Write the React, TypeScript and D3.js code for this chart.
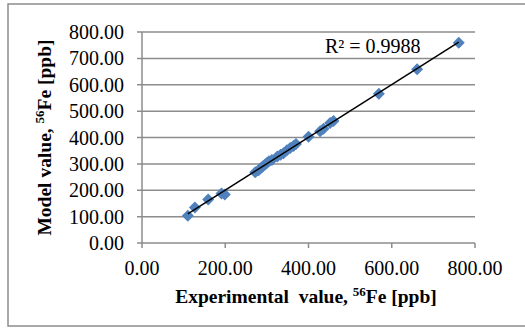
import React from "react";
import * as d3 from "d3";

const expValues = [110, 127, 159, 191, 199, 272, 280, 285, 290, 295, 300, 305, 312, 325, 333, 340, 348, 356, 364, 370, 400, 428, 436, 452, 460, 569, 661, 761];
const modelValues = [103, 135, 165, 188, 184, 268, 276, 283, 290, 297, 303, 310, 315, 328, 335, 340, 352, 360, 368, 375, 403, 424, 433, 455, 463, 566, 659, 759];
const xTicks = [0, 200, 400, 600, 800];
const yTicks = [0, 100, 200, 300, 400, 500, 600, 700, 800];
const r2Label = "R² = 0.9988";

export default function App() {
  const W = 525, H = 328;
  const left = 142, right = 475, top = 32, bottom = 243;
  const x = d3.scaleLinear().domain([0, 800]).range([left, right]);
  const y = d3.scaleLinear().domain([0, 800]).range([bottom, top]);

  const pts = expValues.map((v, i) => [v, modelValues[i]] as [number, number]);
  const mx = d3.mean(pts, (p) => p[0])!;
  const my = d3.mean(pts, (p) => p[1])!;
  const sxy = d3.sum(pts, (p) => (p[0] - mx) * (p[1] - my));
  const sxx = d3.sum(pts, (p) => (p[0] - mx) ** 2);
  const slope = sxy / sxx;
  const intercept = my - slope * mx;
  const [xmin, xmax] = d3.extent(expValues) as [number, number];
  const trend = d3.line<number>().x((v) => x(v)).y((v) => y(slope * v + intercept));

  const grid = "#8c8c8c";
  const font = "Liberation Serif, DejaVu Serif, Times New Roman, serif";
  const fmt = d3.format(".2f");
  const ds = 6;
  const diamond = `M0,${-ds}L${ds},0L0,${ds}L${-ds},0Z`;

  return (
    <svg width={W} height={H} style={{ position: "absolute", left: 0, top: 0, fontFamily: font }}>
      <rect x={0} y={0} width={W} height={H} fill="#fff" />
      <rect x={8} y={4} width={540} height={322} fill="#fff" stroke="#8c8c8c" strokeWidth={1.5} />
      {yTicks.map((t) => (
        <g key={"y" + t}>
          <line x1={left - 5} x2={right} y1={y(t)} y2={y(t)} stroke={grid} strokeWidth={1.5} />
          <text x={124} y={y(t)} dy="0.35em" textAnchor="end" fontSize={20}>{fmt(t)}</text>
        </g>
      ))}
      <line x1={left} x2={left} y1={top} y2={bottom} stroke={grid} strokeWidth={1.5} />
      {xTicks.map((t) => (
        <g key={"x" + t}>
          <line x1={x(t)} x2={x(t)} y1={bottom} y2={bottom + 5} stroke={grid} strokeWidth={1.5} />
          <text x={x(t)} y={275} textAnchor="middle" fontSize={20}>{fmt(t)}</text>
        </g>
      ))}
      {pts.map((p, i) => (
        <path key={i} d={diamond} transform={`translate(${x(p[0])},${y(p[1])})`} fill="#4f81bd" />
      ))}
      <path d={trend([xmin, xmax]) || ""} stroke="#000" strokeWidth={1.5} fill="none" />
      <text x={325} y={53} fontSize={20}>{r2Label}</text>
      <text x={306} y={303} textAnchor="middle" fontSize={19.5} fontWeight="bold">
        Experimental&#160; value, <tspan fontSize={13} dy={-7}>56</tspan><tspan dy={7}>Fe [ppb]</tspan>
      </text>
      <text transform={`translate(51,${(top + bottom) / 2}) rotate(-90)`} textAnchor="middle" fontSize={19.5} fontWeight="bold">
        Model value, <tspan fontSize={13} dy={-7}>56</tspan><tspan dy={7}>Fe [ppb]</tspan>
      </text>
    </svg>
  );
}
